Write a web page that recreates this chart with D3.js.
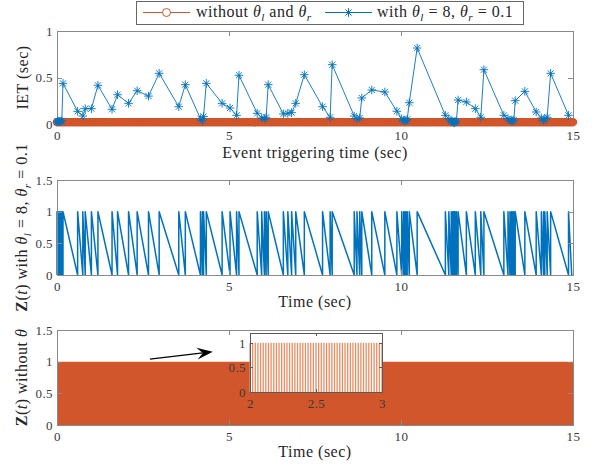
<!DOCTYPE html>
<html><head><meta charset="utf-8">
<script src="https://cdn.jsdelivr.net/npm/d3@7"></script>
<style>
html,body{margin:0;padding:0;background:#fff;}
svg{display:block;}
</style></head><body>
<svg id="c" width="592" height="466"></svg>
<script>
// ---------------- data ----------------
const xTicks = [0, 5, 10, 15];
const ietYTicks = [0, 0.5, 1];
const zYTicks = [0, 0.5, 1, 1.5];
const insetXTicks = [2, 2.5, 3];
const insetYTicks = [0, 0.5, 1];

// with theta_l = 8, theta_r = 0.1 : event triggering times (sec) and inter-event times (sec)
const blueEventTimes = [
  0, 0.02, 0.05, 0.08, 0.11, 0.14,
  0.174, 0.60, 0.75, 0.82, 1.00, 1.19, 1.60, 1.76, 2.08, 2.33, 2.66, 2.97, 3.54, 3.73,
  4.17, 4.227, 4.26, 4.34, 4.80, 5.03, 5.22, 5.29, 5.82, 5.95, 6.03, 6.08, 6.14, 6.58,
  6.71, 6.82, 6.94, 7.19, 7.72, 7.94, 8.00, 8.64, 8.72, 8.80, 8.86, 9.15, 9.53, 9.88,
  10.02, 10.077, 10.11, 10.146, 10.18, 10.24, 10.47, 11.29, 11.39, 11.46, 11.49, 11.52,
  11.54, 11.56, 11.571, 11.61, 11.66, 11.90, 12.16, 12.32, 12.41, 12.99, 13.11, 13.167,
  13.21, 13.246, 13.28, 13.32, 13.60, 13.93, 14.08, 14.145, 14.18, 14.25, 14.35, 14.87
];
const blueIET = [
  0.02, 0.03, 0.03, 0.03, 0.03, 0.034,
  0.437, 0.136, 0.086, 0.165, 0.165, 0.416, 0.158, 0.315, 0.222, 0.358, 0.30, 0.545, 0.186, 0.423,
  0.057, 0.035, 0.08, 0.437, 0.222, 0.172, 0.093, 0.524, 0.115, 0.065, 0.057, 0.072, 0.423, 0.108,
  0.115, 0.122, 0.222, 0.53, 0.186, 0.072, 0.638, 0.086, 0.057, 0.065, 0.28, 0.366, 0.344, 0.137,
  0.057, 0.035, 0.036, 0.036, 0.05, 0.229, 0.817, 0.093, 0.057, 0.029, 0.03, 0.02,
  0.02, 0.011, 0.03, 0.029, 0.258, 0.237, 0.165, 0.072, 0.584, 0.093, 0.057, 0.04,
  0.036, 0.034, 0.043, 0.251, 0.351, 0.129, 0.065, 0.035, 0.057, 0.072, 0.545, 0.093
];

// without theta: an event at every sampling instant
const periodicStep = 0.02;   // sec
const periodicSpan = [0, 15];
const periodicIET = 0.02;
const insetSpan = [2, 3];

// annotation arrow (data coords of bottom panel)
const arrowFrom = [2.70, 1.04];
const arrowTo = [4.53, 1.157];

// ---------------- styles ----------------
const ORANGE = '#D2562B', BLUE = '#0072BD';
const FONT = '"Liberation Serif","Times New Roman",serif';
const AX = '#8a8a8a', TXT = '#3a3a3a';

const svg = d3.select('#c');

const x = d3.scaleLinear().domain([0, 15]).range([57, 573]);
const y1 = d3.scaleLinear().domain([0, 1]).range([124, 31]);
const y2 = d3.scaleLinear().domain([0, 1.5]).range([275, 180]);
const y3 = d3.scaleLinear().domain([0, 1.5]).range([425, 330]);

function axes(xs, ys, xt, yt, tickLen, fs, boxColor) {
  const [x0, x1] = xs.range();
  const [yb, ytop] = ys.range();
  const g = svg.append('g');
  const fmt = d3.format('~g');
  g.append('g').attr('transform', `translate(0,${yb})`)
    .call(d3.axisBottom(xs).tickValues(xt).tickSize(-tickLen).tickPadding(7).tickFormat(fmt));
  g.append('g').attr('transform', `translate(0,${ytop})`)
    .call(d3.axisTop(xs).tickValues(xt).tickSize(-tickLen).tickFormat(''));
  g.append('g').attr('transform', `translate(${x0},0)`)
    .call(d3.axisLeft(ys).tickValues(yt).tickSize(-tickLen).tickPadding(4).tickFormat(fmt));
  g.append('g').attr('transform', `translate(${x1},0)`)
    .call(d3.axisRight(ys).tickValues(yt).tickSize(-tickLen).tickFormat(''));
  g.selectAll('.domain').remove();
  g.selectAll('.tick line').attr('stroke', boxColor).attr('shape-rendering', 'crispEdges');
  g.selectAll('.tick text').attr('fill', TXT)
    .attr('font-family', FONT).style('font-family', FONT)
    .attr('font-size', fs).style('font-size', fs + 'px')
    .style('letter-spacing', '0.4px');
  g.append('rect').attr('x', x0).attr('y', ytop).attr('width', x1 - x0).attr('height', yb - ytop)
    .attr('fill', 'none').attr('stroke', boxColor).attr('shape-rendering', 'crispEdges');
  return g;
}

function rich(textSel, parts, fs) {
  let shifted = 0;
  parts.forEach(p => {
    const ts = textSel.append('tspan').text(p.t);
    if (p.it) ts.attr('font-style', 'italic');
    if (p.b) ts.attr('font-weight', 'bold');
    if (p.sub) {
      ts.attr('font-size', fs * 0.7).attr('dy', fs * 0.22 - shifted);
      shifted = fs * 0.22;
    } else if (shifted) {
      ts.attr('dy', -shifted);
      shifted = 0;
    }
  });
}

function label(parts, px, py, rotate, fs) {
  const t = svg.append('text')
    .attr('transform', `translate(${px},${py})` + (rotate ? ' rotate(-90)' : ''))
    .attr('text-anchor', 'middle')
    .attr('font-family', FONT).attr('font-size', fs).attr('fill', '#262626')
    .style('letter-spacing', '0.5px');
  rich(t, parts, fs);
  return t;
}

function starPath(r) {
  const a = r * 0.7071;
  return `M0,${-r}L0,${r}M${-r},0L${r},0M${-a},${-a}L${a},${a}M${-a},${a}L${a},${-a}`;
}

// ---------------- panel 1: IET ----------------
axes(x, y1, xTicks, ietYTicks, 5, 13, AX);

const periodicTimes = d3.range(periodicSpan[0], periodicSpan[1] + 1e-9, periodicStep);
svg.append('g').selectAll('circle').data(periodicTimes).join('circle')
  .attr('cx', d => x(d)).attr('cy', y1(periodicIET)).attr('r', 3.6)
  .attr('fill', 'none').attr('stroke', ORANGE).attr('stroke-width', 1.2);

const bluePts = blueEventTimes.map((t, i) => [t, blueIET[i]]);
svg.append('path').datum(bluePts)
  .attr('d', d3.line().x(d => x(d[0])).y(d => y1(d[1])))
  .attr('fill', 'none').attr('stroke', BLUE).attr('stroke-width', 0.9);
svg.append('g').selectAll('path').data(bluePts).join('path')
  .attr('transform', d => `translate(${x(d[0])},${y1(d[1])})`)
  .attr('d', starPath(4.3))
  .attr('fill', 'none').attr('stroke', BLUE).attr('stroke-width', 0.9);

label([{t: 'Event triggering time (sec)'}], 315, 157.5, false, 16);
label([{t: 'IET (sec)'}], 28, 77.5, true, 16);

// ---------------- panel 2: Z(t) with thresholds ----------------
const zPts = [];
blueEventTimes.forEach((t, i) => {
  const next = i < blueEventTimes.length - 1 ? blueEventTimes[i + 1] : t + blueIET[i];
  zPts.push([t, 0], [t, 1], [next, 0]);
});
svg.append('path').datum(zPts)
  .attr('d', d3.line().x(d => x(d[0])).y(d => y2(d[1])))
  .attr('fill', 'none').attr('stroke', BLUE).attr('stroke-width', 1.5)
  .attr('stroke-linejoin', 'round');
axes(x, y2, xTicks, zYTicks, 5, 13, AX);
label([{t: 'Time (sec)'}], 315, 307, false, 16);
label([{t: 'Z', b: true}, {t: '('}, {t: 't', it: true}, {t: ') with '}, {t: 'θ', it: true}, {t: 'l', it: true, sub: true},
       {t: ' = 8, '}, {t: 'θ', it: true}, {t: 'r', it: true, sub: true}, {t: ' = 0.1'}], 27, 227.5, true, 16);

// ---------------- panel 3: Z(t) without theta ----------------
svg.append('path').datum(periodicTimes)
  .attr('d', d3.area().x(d => x(d)).y0(y3(0)).y1(y3(1)))
  .attr('fill', ORANGE).attr('stroke', 'none');
axes(x, y3, xTicks, zYTicks, 5, 13, AX);
label([{t: 'Time (sec)'}], 315, 456.5, false, 16);
label([{t: 'Z', b: true}, {t: '('}, {t: 't', it: true}, {t: ') without '}, {t: 'θ', it: true}], 27, 377.5, true, 16);

// inset
const xi = d3.scaleLinear().domain(insetSpan).range([250, 382]);
const yi = d3.scaleLinear().domain([0, 1.2]).range([392, 333]);
svg.append('rect').attr('x', 250).attr('y', yi(1.2)).attr('width', 132).attr('height', yi(0) - yi(1.2))
  .attr('fill', '#fff');
const insetTimes = periodicTimes.filter(t => t >= insetSpan[0] - 1e-9 && t <= insetSpan[1] + 1e-9);
svg.append('g').selectAll('line').data(insetTimes).join('line')
  .attr('x1', d => xi(d)).attr('x2', d => xi(d)).attr('y1', yi(0)).attr('y2', yi(1))
  .attr('stroke', '#E98C62').attr('stroke-width', 1.3);
axes(xi, yi, insetXTicks, insetYTicks, 3, 13, '#5a5a5a');

// arrow
{
  const [ax0, ay0] = [x(arrowFrom[0]), y3(arrowFrom[1])];
  const [ax1, ay1] = [x(arrowTo[0]), y3(arrowTo[1])];
  const ang = Math.atan2(ay1 - ay0, ax1 - ax0) * 180 / Math.PI;
  const len = Math.hypot(ax1 - ax0, ay1 - ay0);
  const g = svg.append('g').attr('transform', `translate(${ax0},${ay0}) rotate(${ang})`);
  g.append('line').attr('x1', 0).attr('y1', 0).attr('x2', len - 10).attr('y2', 0)
    .attr('stroke', '#000').attr('stroke-width', 1.1);
  g.append('path').attr('d', `M${len},0L${len - 16},-6L${len - 10},0L${len - 16},6Z`).attr('fill', '#000');
}

// ---------------- legend ----------------
const lg = svg.append('g');
lg.append('rect').attr('x', 136).attr('y', 1).attr('width', 387).attr('height', 23)
  .attr('fill', '#fff').attr('stroke', '#666').attr('shape-rendering', 'crispEdges');
lg.append('line').attr('x1', 143).attr('x2', 190).attr('y1', 12.5).attr('y2', 12.5)
  .attr('stroke', ORANGE).attr('stroke-width', 1);
lg.append('circle').attr('cx', 166.5).attr('cy', 12.5).attr('r', 4)
  .attr('fill', '#fff').attr('stroke', ORANGE).attr('stroke-width', 1);
lg.append('line').attr('x1', 325).attr('x2', 372).attr('y1', 12.5).attr('y2', 12.5)
  .attr('stroke', BLUE).attr('stroke-width', 1);
lg.append('path').attr('transform', 'translate(348.5,12.5)').attr('d', starPath(4.3))
  .attr('fill', 'none').attr('stroke', BLUE).attr('stroke-width', 1);
const lt1 = lg.append('text').attr('x', 196).attr('y', 17).attr('font-family', FONT).attr('font-size', 16)
  .attr('fill', '#262626').style('letter-spacing', '0.5px');
rich(lt1, [{t: 'without '}, {t: 'θ', it: true}, {t: 'l', it: true, sub: true}, {t: ' and '}, {t: 'θ', it: true}, {t: 'r', it: true, sub: true}], 16);
const lt2 = lg.append('text').attr('x', 377).attr('y', 17).attr('font-family', FONT).attr('font-size', 16)
  .attr('fill', '#262626').style('letter-spacing', '0.5px');
rich(lt2, [{t: 'with '}, {t: 'θ', it: true}, {t: 'l', it: true, sub: true}, {t: ' = 8, '}, {t: 'θ', it: true}, {t: 'r', it: true, sub: true}, {t: ' = 0.1'}], 16);
</script>
</body></html>
